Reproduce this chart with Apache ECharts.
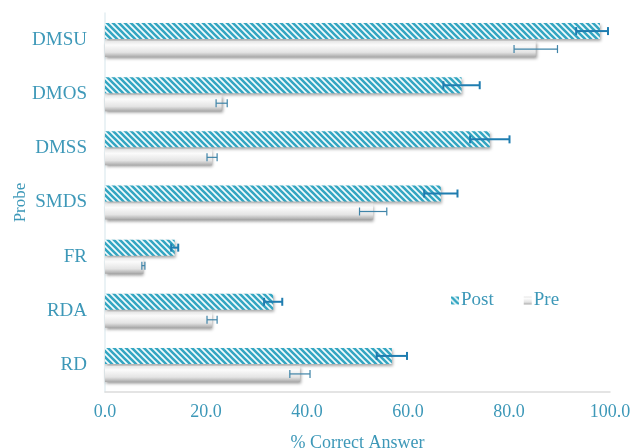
<!DOCTYPE html>
<html>
<head>
<meta charset="utf-8">
<script src="https://cdn.jsdelivr.net/npm/echarts@6/dist/echarts.min.js"></script>
<style>html,body{margin:0;padding:0;background:#fff}#c{width:633px;height:448px}</style>
</head>
<body>
<div id="c"></div>
<script>
var categories = ['DMSU','DMOS','DMSS','SMDS','FR','RDA','RD'];
var postValues = [98.0, 70.6, 76.2, 66.5, 13.8, 33.3, 56.8];
var preValues = [85.3, 23.1, 21.2, 53.1, 7.6, 21.2, 38.6];
var postErrMinus = [4.7, 3.6, 3.9, 3.3, 0.7, 1.8, 3.0];
var postErrPlus = [1.6, 3.6, 3.9, 3.3, 0.7, 1.8, 3.0];
var preErr = [4.3, 1.1, 1.0, 2.7, 0.3, 1.0, 2.0];
var xTicks = [0, 20, 40, 60, 80, 100];

var TXT = '#3d98b8';
var FONT = 'Liberation Serif';
var BAR_W = 16, GAP = 2;

function stripePattern() {
  var s = 6;
  var c = document.createElement('canvas');
  c.width = s; c.height = s;
  var g = c.getContext('2d');
  g.fillStyle = '#f2fbfd';
  g.fillRect(0, 0, s, s);
  g.strokeStyle = '#34a6c2';
  g.lineWidth = 2.6;
  g.beginPath();
  g.moveTo(-1, -1); g.lineTo(s + 1, s + 1);
  g.moveTo(-s - 1, -1); g.lineTo(1, s + 1);
  g.moveTo(s - 1, -1); g.lineTo(2 * s + 1, s + 1);
  g.stroke();
  return c;
}

var chart = echarts.init(document.getElementById('c'), null, {renderer: 'canvas'});

function errItem(offset, minusArr, plusArr, color, lw) {
  return function (params, api) {
    var i = api.value(0);
    var v = api.value(1);
    var c = api.coord([v, i]);
    var y = c[1] + offset;
    var lo = api.coord([v - minusArr[i], i])[0];
    var hi = api.coord([v + plusArr[i], i])[0];
    var h = 4;
    var st = {stroke: color, lineWidth: lw};
    return {
      type: 'group',
      children: [
        {type: 'line', shape: {x1: lo, y1: y, x2: hi, y2: y}, style: st},
        {type: 'line', shape: {x1: lo, y1: y - h, x2: lo, y2: y + h}, style: st},
        {type: 'line', shape: {x1: hi, y1: y - h, x2: hi, y2: y + h}, style: st}
      ]
    };
  };
}

var off = (BAR_W + GAP) / 2;

chart.setOption({
  animation: false,
  backgroundColor: '#ffffff',
  textStyle: {fontFamily: FONT},
  grid: {left: 105, right: 23, top: 13, bottom: 56, containLabel: false, outerBoundsMode: 'none'},
  legend: {
    data: ['Post', 'Pre'],
    left: 446, top: 286,
    itemWidth: 8, itemHeight: 8, itemGap: 30,
    icon: 'rect',
    textStyle: {color: TXT, fontFamily: FONT, fontSize: 19, padding: [0, 0, 0, -3]}
  },
  xAxis: {
    type: 'value',
    min: 0, max: 100, interval: 20,
    name: '% Correct Answer',
    nameLocation: 'middle',
    nameGap: 42,
    nameMoveOverlap: false,
    nameTextStyle: {color: TXT, fontFamily: FONT, fontSize: 18},
    axisLine: {show: true, lineStyle: {color: '#dcdcdc', width: 1.5}},
    axisTick: {show: false},
    splitLine: {show: false},
    axisLabel: {
      color: TXT, fontFamily: FONT, fontSize: 18, margin: 11,
      customValues: xTicks,
      formatter: function (v) { return v.toFixed(1); }
    }
  },
  yAxis: {
    type: 'category',
    data: categories,
    inverse: true,
    name: 'Probe',
    nameLocation: 'middle',
    nameGap: 76,
    nameMoveOverlap: false,
    nameRotate: 90,
    nameTextStyle: {color: TXT, fontFamily: FONT, fontSize: 17},
    axisLine: {show: true, lineStyle: {color: '#e3eef2', width: 1.5}},
    axisTick: {show: false},
    axisLabel: {color: TXT, fontFamily: FONT, fontSize: 19, margin: 18}
  },
  series: [
    {
      name: 'Post',
      type: 'bar',
      data: postValues,
      barWidth: BAR_W,
      barGap: (GAP / BAR_W * 100) + '%',
      itemStyle: {
        color: {image: stripePattern(), repeat: 'repeat'},
        shadowColor: 'rgba(0,0,0,0.35)',
        shadowBlur: 3,
        shadowOffsetX: 1,
        shadowOffsetY: 2
      }
    },
    {
      name: 'Pre',
      type: 'bar',
      data: preValues,
      barWidth: BAR_W,
      itemStyle: {
        color: new echarts.graphic.LinearGradient(0, 0, 0, 1, [
          {offset: 0, color: '#e6e6e6'},
          {offset: 0.25, color: '#fbfbfb'},
          {offset: 0.7, color: '#e4e4e4'},
          {offset: 1, color: '#a9a9a9'}
        ]),
        shadowColor: 'rgba(0,0,0,0.4)',
        shadowBlur: 3,
        shadowOffsetX: 1,
        shadowOffsetY: 2
      }
    },
    {
      name: 'PostErr',
      type: 'custom',
      data: postValues.map(function (v, i) { return [i, v]; }),
      encode: {x: 1, y: 0},
      renderItem: errItem(-off, postErrMinus, postErrPlus, '#1f7db0', 2),
      z: 5,
      silent: true
    },
    {
      name: 'PreErr',
      type: 'custom',
      data: preValues.map(function (v, i) { return [i, v]; }),
      encode: {x: 1, y: 0},
      renderItem: errItem(off, preErr, preErr, '#3f84a8', 1.2),
      z: 5,
      silent: true
    }
  ]
});
</script>
</body>
</html>
